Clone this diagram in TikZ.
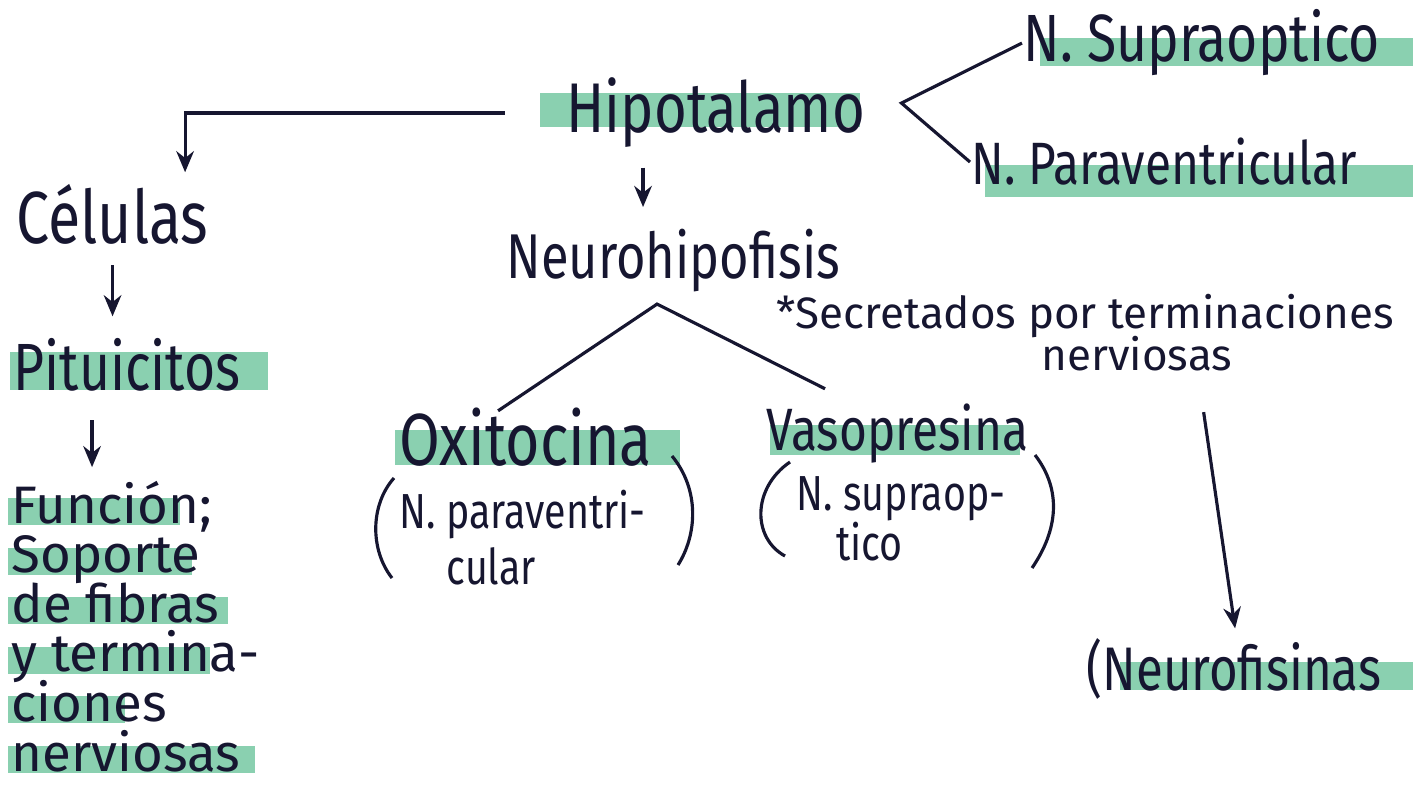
\documentclass[tikz,border=0pt]{standalone}
\usepackage{fontspec}
\usetikzlibrary{arrows.meta}
\newfontfamily\hand{Fira Sans}[FakeStretch=0.8]
\newfontfamily\handw{Fira Sans}
\newcommand\handsize[1]{\hand\fontsize{#1}{#1}\selectfont}
\newcommand\handwsize[1]{\handw\fontsize{#1}{#1}\selectfont}
\definecolor{ink}{RGB}{22,22,48}
\definecolor{marker}{RGB}{138,208,176}

\begin{document}
\begin{tikzpicture}[x=0.01cm, y=-0.01cm, color=ink, line width=0.9pt,
    txt/.style={anchor=base west, inner sep=0pt},
    arr/.style={-{Stealth[length=6pt, width=5pt]}},
    hl/.style={fill=marker}]
  \useasboundingbox (0,0) rectangle (1413,785);
  \clip (0,0) rectangle (1413,785);

  % marker stripes
  \fill[hl] (540,93) rectangle (860,127);
  \fill[hl] (1040,38) rectangle (1413,66);
  \fill[hl] (985,165) rectangle (1413,197);
  \fill[hl] (10,352) rectangle (268,390);
  \foreach \w [count=\i] in {180,192,228,210,125,255}
    \fill[hl] (8,{498+49.6*(\i-1)}) rectangle (\w,{525+49.6*(\i-1)});
  \fill[hl] (395,430) rectangle (680,465);
  \fill[hl] (770,425) rectangle (1020,455);
  \fill[hl] (1120,662) rectangle (1413,690);

  % words
  \node[txt, font=\handsize{20}] (hip) at (565,133) {Hipotalamo};
  \node[txt, font=\handsize{19}] (sup) at (1022,62) {N. Supraoptico};
  \node[txt, font=\handsize{17}] (para) at (970,185) {N. Paraventricular};
  \node[txt, font=\handsize{21}] (cel) at (15,243) {Células};
  \node[txt, font=\handsize{19}] (pit) at (12,390) {Pituicitos};
  \foreach \t [count=\i] in {Función;, Soporte, de fibras, y termina-, ciones, nerviosas}
    \node[txt, font=\handwsize{15}] (fun\i) at (10,{523+49.6*(\i-1)}) {\t};
  \node[txt, font=\handsize{18}] (nh) at (505,278) {Neurohipofisis};
  \node[txt, font=\handsize{21}] (oxi) at (398,465) {Oxitocina};
  \node[txt, font=\handsize{14}] (oxi1) at (398,528) {N. paraventri-};
  \node[txt, font=\handsize{14}] (oxi2) at (445,584) {cular};
  \node[txt, font=\handsize{17}] (vaso) at (765,450) {Vasopresina};
  \node[txt, font=\handsize{14}] (vaso1) at (795,510) {N. supraop-};
  \node[txt, font=\handsize{14}] (vaso2) at (835,560) {tico};
  \node[txt, font=\handwsize{12.5}] (sec) at (775,328) {*Secretados por terminaciones};
  \node[txt, font=\handwsize{12.5}] (nerv) at (1040,370) {nerviosas};
  \node[txt, font=\handsize{17.5}] (nf) at (1085,690) {(Neurofisinas};

  % brackets
  \draw (394,478) .. controls (370,505) and (370,550) .. (392,578);
  \draw (672,456) .. controls (700,490) and (697,535) .. (678,565);
  \draw (790,462) .. controls (752,488) and (752,538) .. (785,556);
  \draw (1035,455) .. controls (1062,490) and (1058,530) .. (1032,568);

  % connectors
  \draw[arr, shorten <=0.6cm] (hip.west) -| ([xshift=1.7cm, yshift=0.1cm]cel.north west);
  \draw (sup.west) -- ([xshift=0.35cm, yshift=0.1cm]hip.east) -- (para.west);
  \draw[arr, shorten <=0.18cm, shorten >=0.2cm] ([xshift=0.78cm]hip.south west)
    -- ([xshift=0.78cm]hip.south west |- nh.north);
  \draw[arr, shorten <=0.2cm, shorten >=0.2cm] (cel.south) -- (cel.south |- pit.north);
  \draw[arr, shorten <=0.28cm, shorten >=0.12cm] ([xshift=0.8cm]pit.south west)
    -- ([xshift=0.8cm]pit.south west |- fun1.north);
  \draw ([xshift=1cm, yshift=-0.05cm]oxi.north west) -- ([xshift=1.52cm, yshift=-0.11cm]nh.south west)
    -- ([xshift=0.6cm, yshift=0.13cm]vaso.north west);
  \draw[arr] ([xshift=-0.3cm, yshift=-0.4cm]nerv.south east) -- ([xshift=1.5cm, yshift=0.08cm]nf.north west);
\end{tikzpicture}
\end{document}
